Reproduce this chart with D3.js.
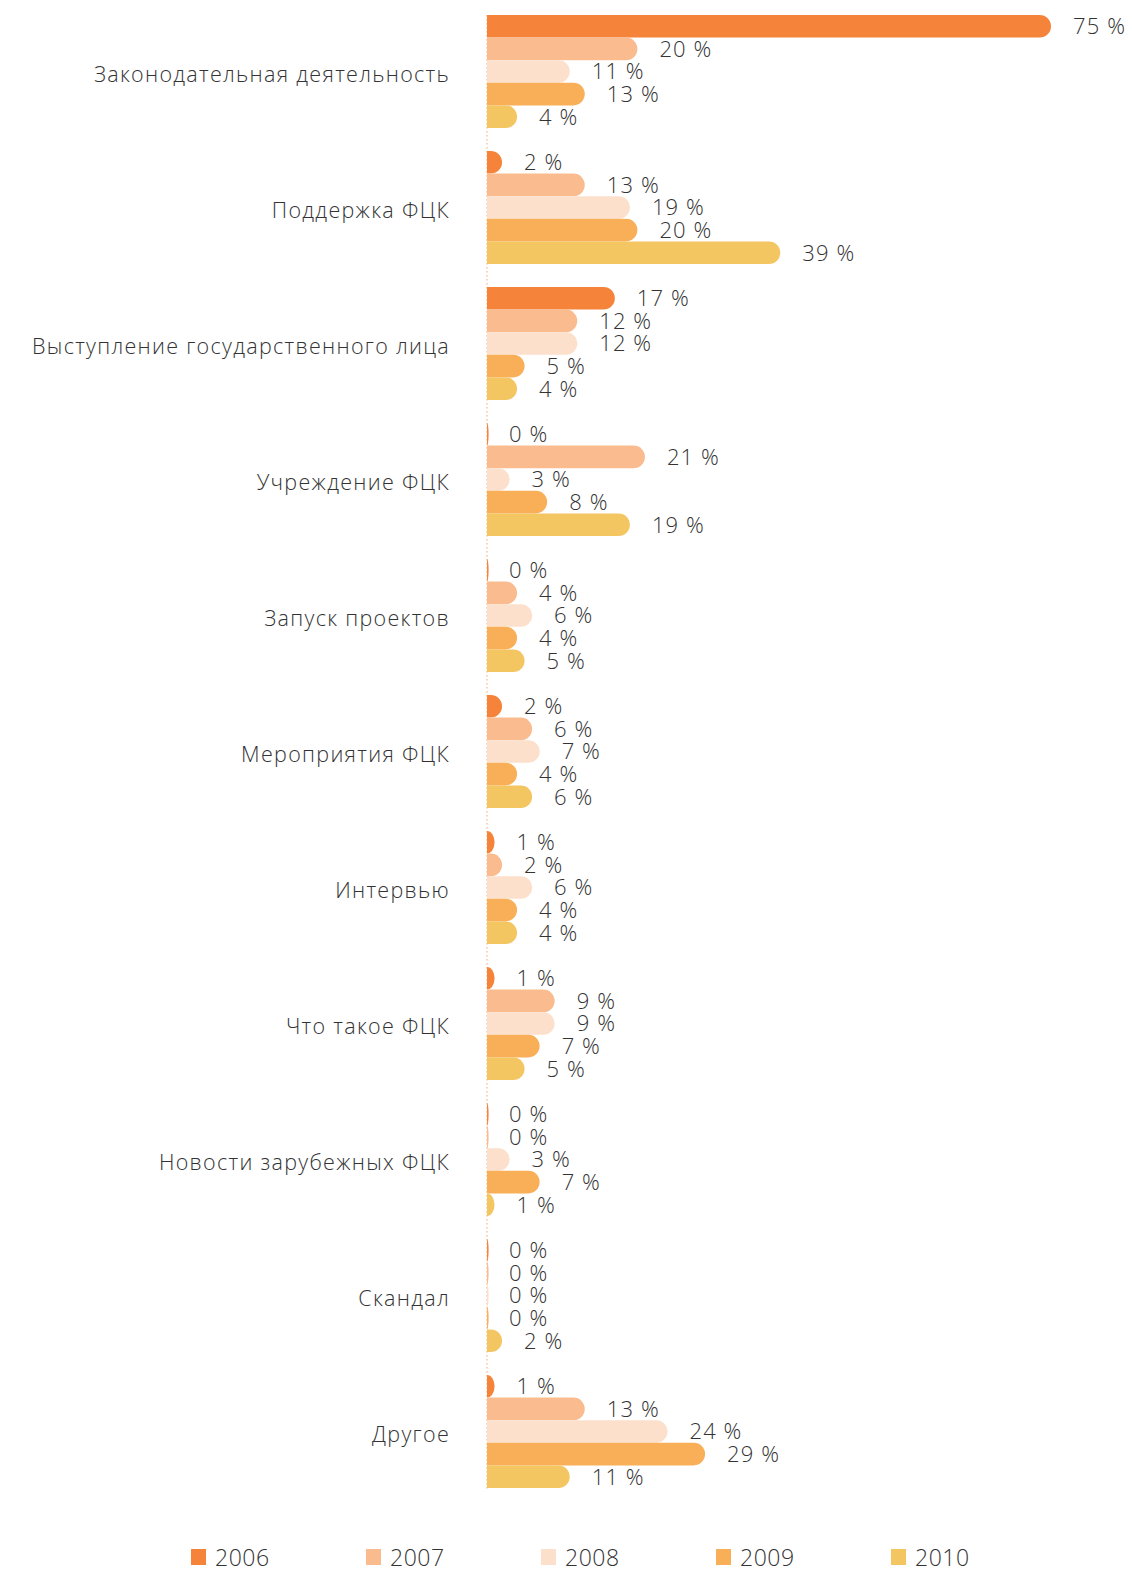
<!DOCTYPE html>
<html>
<head>
<meta charset="utf-8">
<script src="https://cdn.jsdelivr.net/npm/d3@7"></script>
<style>
  html, body { margin: 0; padding: 0; background: #fff; }
  svg text { font-family: "Open Sans", Lato, sans-serif; font-weight: 300; fill: #333; }
</style>
</head>
<body>
<svg id="chart" width="1132" height="1571"></svg>
<script>
const categories = [
  "Законодательная деятельность",
  "Поддержка ФЦК",
  "Выступление государственного лица",
  "Учреждение ФЦК",
  "Запуск проектов",
  "Мероприятия ФЦК",
  "Интервью",
  "Что такое ФЦК",
  "Новости зарубежных ФЦК",
  "Скандал",
  "Другое"
];
const years = ["2006", "2007", "2008", "2009", "2010"];
const v2006 = [75, 2, 17, 0, 0, 2, 1, 1, 0, 0, 1];
const v2007 = [20, 13, 12, 21, 4, 6, 2, 9, 0, 0, 13];
const v2008 = [11, 19, 12, 3, 6, 7, 6, 9, 3, 0, 24];
const v2009 = [13, 20, 5, 8, 4, 4, 4, 7, 7, 0, 29];
const v2010 = [4, 39, 4, 19, 5, 6, 4, 5, 1, 2, 11];
const seriesValues = [v2006, v2007, v2008, v2009, v2010];
const colors = ["#f5843a", "#fabb8e", "#fde0cc", "#f9ae58", "#f4c662"];

const svg = d3.select("#chart");
const x0 = 487;

const y = d3.scaleBand().domain(categories).range([15, 1488]).paddingInner(23 / 136).paddingOuter(0);
const yInner = d3.scaleBand().domain(years).range([0, y.bandwidth()]).padding(0);
const x = d3.scaleLinear().domain([0, 75]).range([x0, 1051]);

// dotted baseline
svg.append("line")
  .attr("x1", x0).attr("x2", x0)
  .attr("y1", 15).attr("y2", 1490)
  .attr("stroke", "#f9c39d").attr("stroke-width", 1.5)
  .attr("stroke-dasharray", "1.5,2.5");

// bar with rounded right end
function barPath(x1, x2, yt, h) {
  const w = Math.max(x2 - x1, 1.6);
  const r = Math.min(h / 2, w);
  return `M${x1},${yt}H${x1 + w - r}A${r},${h / 2} 0 0 1 ${x1 + w},${yt + h / 2}A${r},${h / 2} 0 0 1 ${x1 + w - r},${yt + h}H${x1}Z`;
}

const rows = [];
categories.forEach((c, i) => {
  years.forEach((yr, j) => {
    rows.push({ cat: c, year: yr, value: seriesValues[j][i], color: colors[j] });
  });
});

const g = svg.append("g");
g.selectAll("path.bar").data(rows).join("path")
  .attr("class", "bar")
  .attr("fill", d => d.color)
  .attr("d", d => barPath(x(0), x(d.value), y(d.cat) + yInner(d.year), yInner.bandwidth()));

g.selectAll("text.val").data(rows).join("text")
  .attr("class", "val")
  .attr("x", d => x(d.value) + 22)
  .attr("y", d => y(d.cat) + yInner(d.year) + yInner.bandwidth() / 2 + 2)
  .attr("dominant-baseline", "middle")
  .attr("font-size", 22)
  .attr("letter-spacing", 1.1)
  .text(d => d.value + " %");

// category labels
svg.selectAll("text.cat").data(categories).join("text")
  .attr("class", "cat")
  .attr("x", 450)
  .attr("y", d => y(d) + y.bandwidth() / 2 + 5)
  .attr("text-anchor", "end")
  .attr("dominant-baseline", "middle")
  .attr("font-size", 21.5)
  .attr("letter-spacing", 1.3)
  .text(d => d);

// legend
const legend = svg.append("g").selectAll("g").data(years).join("g")
  .attr("transform", (d, i) => `translate(${191 + i * 175},1549)`);
legend.append("rect").attr("width", 15).attr("height", 16).attr("fill", (d, i) => colors[i]);
legend.append("text").attr("x", 24).attr("y", 17).attr("font-size", 23).attr("letter-spacing", 0.5).text(d => d);
</script>
</body>
</html>
